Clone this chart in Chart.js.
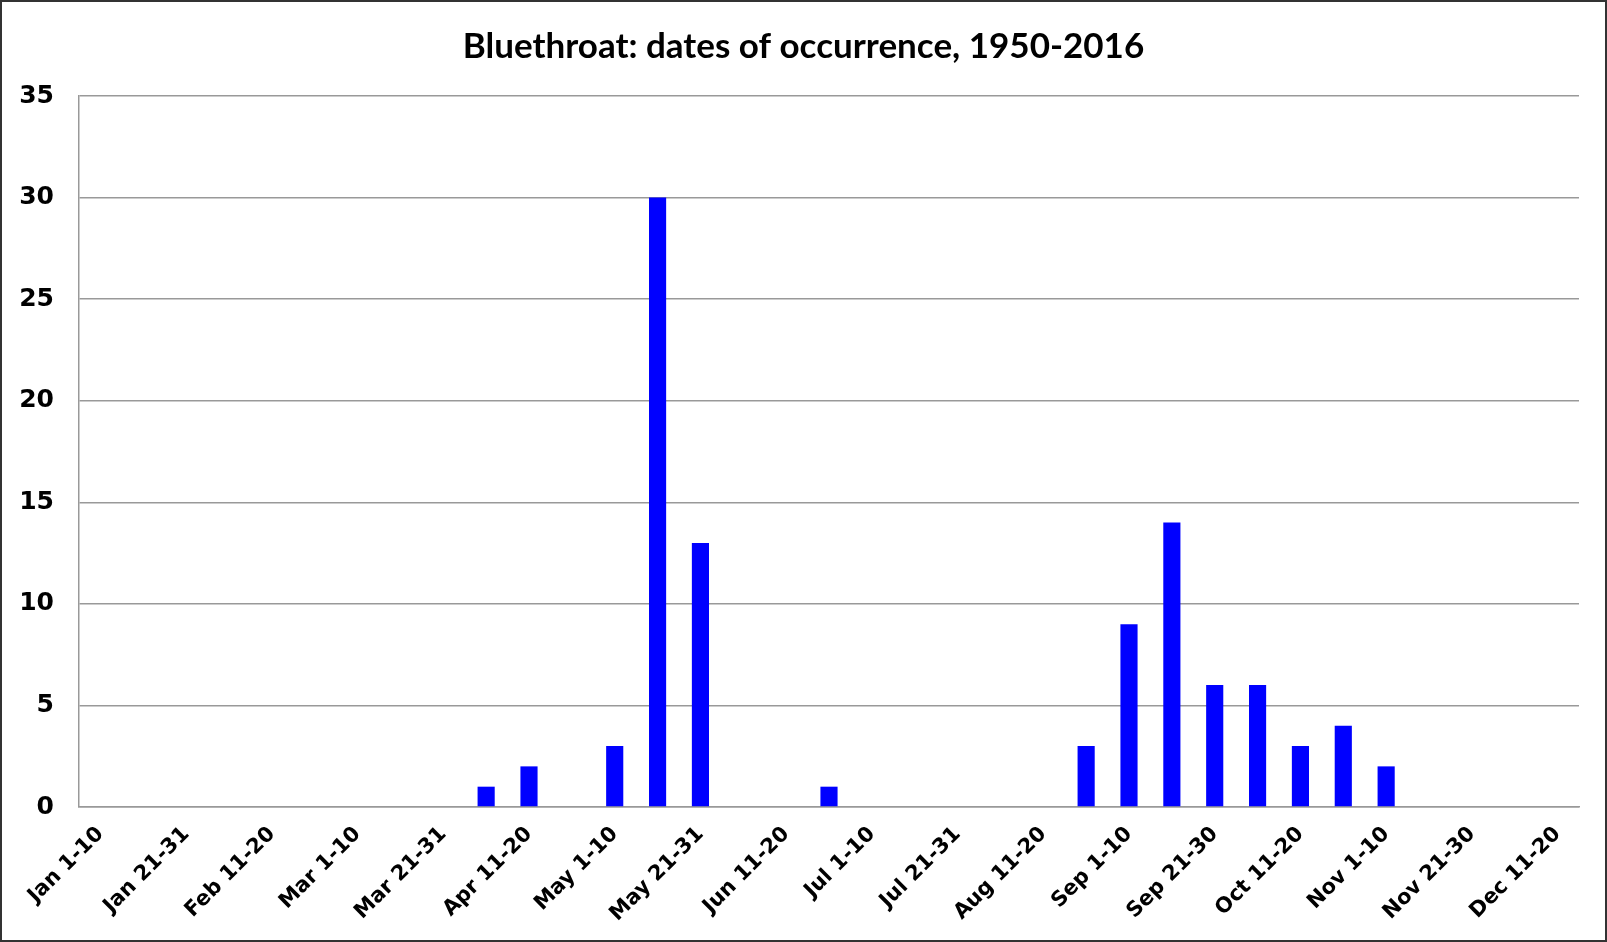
<!DOCTYPE html>
<html>
<head>
<meta charset="utf-8">
<script src="https://cdn.jsdelivr.net/npm/chart.js@4"></script>
<style>
  html, body { margin: 0; padding: 0; background: #fff; }
  #wrap { width: 1607px; height: 942px; position: relative; }
</style>
</head>
<body>
<div id="wrap"><canvas id="chart" width="1607" height="942"></canvas></div>
<script>
// ten-day periods (the source sheet stops at Dec 11-20)
var periods = [
  'Jan 1-10', 'Jan 11-20', 'Jan 21-31',
  'Feb 1-10', 'Feb 11-20', 'Feb 21-28',
  'Mar 1-10', 'Mar 11-20', 'Mar 21-31',
  'Apr 1-10', 'Apr 11-20', 'Apr 21-30',
  'May 1-10', 'May 11-20', 'May 21-31',
  'Jun 1-10', 'Jun 11-20', 'Jun 21-30',
  'Jul 1-10', 'Jul 11-20', 'Jul 21-31',
  'Aug 1-10', 'Aug 11-20', 'Aug 21-31',
  'Sep 1-10', 'Sep 11-20', 'Sep 21-30',
  'Oct 1-10', 'Oct 11-20', 'Oct 21-31',
  'Nov 1-10', 'Nov 11-20', 'Nov 21-30',
  'Dec 1-10', 'Dec 11-20'
];
var counts = [
  0, 0, 0,
  0, 0, 0,
  0, 0, 0,
  1, 2, 0,
  3, 30, 13,
  0, 0, 1,
  0, 0, 0,
  0, 0, 3,
  9, 14, 6,
  6, 3, 4,
  2, 0, 0,
  0, 0
];
var yTicks = [0, 5, 10, 15, 20, 25, 30, 35];

var frame = {
  id: 'frame',
  afterDraw: function (chart) {
    var c = chart.ctx;
    c.save();
    c.strokeStyle = '#333';
    c.lineWidth = 2;
    c.strokeRect(1, 1, chart.width - 2, chart.height - 2);
    c.restore();
  }
};

new Chart(document.getElementById('chart'), {
  type: 'bar',
  data: {
    labels: periods,
    datasets: [{
      data: counts,
      backgroundColor: '#0000ff',
      borderWidth: 0,
      categoryPercentage: 1,
      barPercentage: 0.4
    }]
  },
  options: {
    responsive: false,
    animation: false,
    layout: { padding: 0 },
    plugins: {
      legend: { display: false },
      tooltip: { enabled: false },
      title: {
        display: true,
        text: 'Bluethroat: dates of occurrence, 1950-2016',
        color: '#000',
        font: { family: 'Lato', size: 35, weight: 'bold' },
        padding: { top: 26, bottom: 28 }
      }
    },
    scales: {
      x: {
        grid: { display: false, drawTicks: false },
        border: { color: '#999', width: 1.5 },
        ticks: {
          autoSkip: false,
          maxRotation: 45,
          minRotation: 45,
          padding: 15,
          color: '#000',
          font: { family: 'DejaVu Sans', size: 21, weight: 'bold' },
          callback: function (v, i) { return i % 2 === 0 ? periods[i] : ''; }
        },
        afterFit: function (s) { s.height = 135; }
      },
      y: {
        min: 0,
        max: 35,
        afterBuildTicks: function (s) { s.ticks = yTicks.map(function (v) { return { value: v }; }); },
        grid: { color: '#999', lineWidth: 1.5, drawTicks: false },
        border: { color: '#999', width: 1.5 },
        ticks: {
          padding: 25,
          color: '#000',
          font: { family: 'DejaVu Sans', size: 25, weight: 'bold' }
        },
        afterFit: function (s) { s.width = 79; }
      },
      // empty right margin so the title centres on the whole picture
      yRight: {
        position: 'right',
        min: 0,
        max: 35,
        grid: { display: false, drawTicks: false },
        border: { display: false },
        ticks: { display: false },
        afterFit: function (s) { s.width = 28; }
      }
    }
  },
  plugins: [frame]
});
</script>
</body>
</html>
